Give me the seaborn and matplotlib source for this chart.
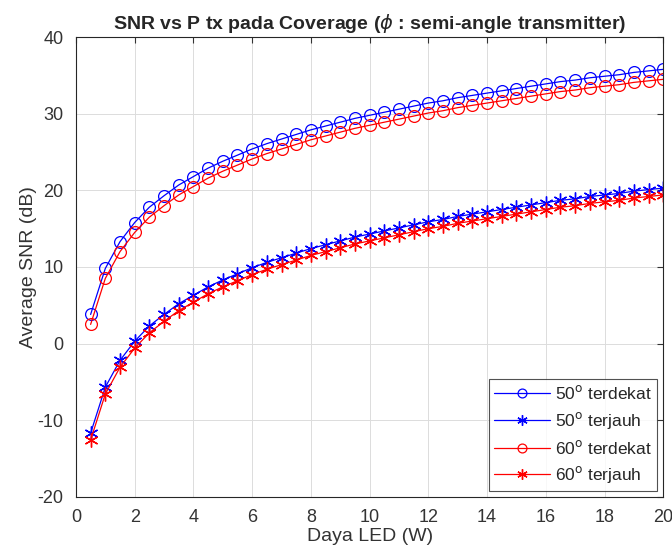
import numpy as np
import matplotlib
matplotlib.use('Agg')
import matplotlib.pyplot as plt
import seaborn as sns

daya = [0.5, 1, 1.5, 2, 2.5, 3, 3.5, 4, 4.5, 5, 5.5, 6, 6.5, 7, 7.5, 8, 8.5, 9, 9.5, 10,
        10.5, 11, 11.5, 12, 12.5, 13, 13.5, 14, 14.5, 15, 15.5, 16, 16.5, 17, 17.5, 18, 18.5, 19, 19.5, 20]

snr_50_dekat = [3.8, 9.8, 13.3, 15.8, 17.8, 19.3, 20.7, 21.8, 22.9, 23.8, 24.6, 25.4, 26.1, 26.7, 27.3,
                27.9, 28.4, 28.9, 29.4, 29.8, 30.2, 30.6, 31.0, 31.4, 31.7, 32.1, 32.4, 32.7, 33.0, 33.3,
                33.6, 33.9, 34.2, 34.4, 34.7, 34.9, 35.1, 35.4, 35.6, 35.8]
snr_50_jauh = [-11.7, -5.7, -2.2, 0.3, 2.3, 3.8, 5.2, 6.3, 7.4, 8.3, 9.1, 9.9, 10.6, 11.2, 11.8,
               12.4, 12.9, 13.4, 13.9, 14.3, 14.7, 15.1, 15.5, 15.9, 16.2, 16.6, 16.9, 17.2, 17.5, 17.8,
               18.1, 18.4, 18.7, 18.9, 19.2, 19.4, 19.6, 19.9, 20.1, 20.3]
snr_60_dekat = [2.5, 8.5, 12.0, 14.5, 16.5, 18.0, 19.4, 20.5, 21.6, 22.5, 23.3, 24.1, 24.8, 25.4, 26.0,
                26.6, 27.1, 27.6, 28.1, 28.5, 28.9, 29.3, 29.7, 30.1, 30.4, 30.8, 31.1, 31.4, 31.7, 32.0,
                32.3, 32.6, 32.9, 33.1, 33.4, 33.6, 33.8, 34.1, 34.3, 34.5]
snr_60_jauh = [-12.6, -6.6, -3.1, -0.6, 1.4, 2.9, 4.3, 5.4, 6.5, 7.4, 8.2, 9.0, 9.7, 10.3, 10.9,
               11.5, 12.0, 12.5, 13.0, 13.4, 13.8, 14.2, 14.6, 15.0, 15.3, 15.7, 16.0, 16.3, 16.6, 16.9,
               17.2, 17.5, 17.8, 18.0, 18.3, 18.5, 18.7, 19.0, 19.2, 19.4]

sns.set_style('white')
plt.rcParams['font.family'] = ['Liberation Sans', 'DejaVu Sans']
plt.rcParams['axes.unicode_minus'] = False

fig = plt.figure(figsize=(6.72, 5.55), dpi=100)
ax = fig.add_axes([0.113, 0.105, 0.874, 0.828])

series = [
    (snr_50_dekat, 'blue', 'o', '50$^{\\mathrm{o}}$ terdekat'),
    (snr_50_jauh, 'blue', '*', '50$^{\\mathrm{o}}$ terjauh'),
    (snr_60_dekat, 'red', 'o', '60$^{\\mathrm{o}}$ terdekat'),
    (snr_60_jauh, 'red', '*', '60$^{\\mathrm{o}}$ terjauh'),
]
for vals, col, mk, lab in series:
    if mk == 'o':
        sns.lineplot(x=daya, y=vals, ax=ax, color=col, marker='o', markersize=8.5,
                     markerfacecolor='none', markeredgecolor=col, markeredgewidth=0.9,
                     linewidth=0.9, label=lab)
    else:
        sns.lineplot(x=daya, y=vals, ax=ax, color=col, marker=(6, 2, 0), markersize=10,
                     markeredgecolor=col, markeredgewidth=1.0,
                     linewidth=0.9, label=lab)

ax.set_xlim(0, 20)
ax.set_ylim(-20, 40)
ax.set_xticks(np.arange(0, 21, 2))
ax.set_yticks(np.arange(-20, 41, 10))
ax.grid(True, color='#dcdcdc', linewidth=0.7)
ax.tick_params(direction='in', length=4, labelsize=13, colors='#333333', top=True, right=True, pad=9)
for s in ax.spines.values():
    s.set_color('#262626')
    s.set_linewidth(0.8)

ax.set_xlabel('Daya LED (W)', fontsize=14, color='#333333', labelpad=1)
ax.set_ylabel('Average SNR (dB)', fontsize=14, color='#333333', labelpad=0)
ax.set_title('SNR vs P tx pada Coverage ($\\phi$ : semi-angle transmitter)',
             fontsize=14, fontweight='bold', pad=6)

leg = ax.legend(loc='lower right', fontsize=12.5, frameon=True, fancybox=False,
                edgecolor='#262626', handlelength=3.2, handletextpad=0.3, borderpad=0.3,
                labelspacing=0.45, borderaxespad=0.35, markerscale=0.75)
leg.get_frame().set_linewidth(0.8)

fig.savefig('out.png', dpi=100)
